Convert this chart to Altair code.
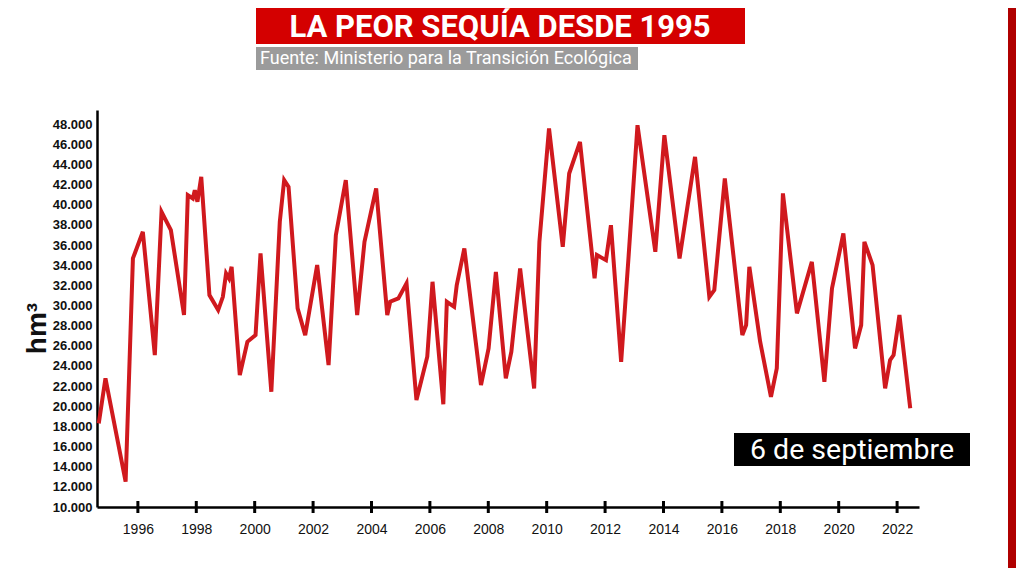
import altair as alt
import pandas as pd

# ---- data ----
years = [1994.66, 1994.89, 1995.58, 1995.83, 1996.17, 1996.58, 1996.81, 1997.13, 1997.58, 1997.71,
         1997.88, 1997.95, 1998.04, 1998.17, 1998.45, 1998.75, 1998.91, 1999.02, 1999.12, 1999.21,
         1999.49, 1999.75, 2000.03, 2000.20, 2000.57, 2000.86, 2001.01, 2001.16, 2001.47, 2001.73,
         2002.14, 2002.53, 2002.78, 2003.12, 2003.51, 2003.76, 2004.16, 2004.54, 2004.64, 2004.92,
         2005.20, 2005.54, 2005.91, 2006.09, 2006.46, 2006.58, 2006.83, 2006.92, 2007.18, 2007.75,
         2008.01, 2008.26, 2008.60, 2008.79, 2009.09, 2009.57, 2009.75, 2010.08, 2010.55, 2010.77,
         2011.14, 2011.64, 2011.72, 2012.03, 2012.20, 2012.55, 2012.80, 2013.11, 2013.72, 2014.03,
         2014.55, 2015.08, 2015.57, 2015.74, 2016.10, 2016.70, 2016.83, 2016.94, 2017.31, 2017.68,
         2017.88, 2018.09, 2018.57, 2019.08, 2019.51, 2019.77, 2020.16, 2020.56, 2020.77, 2020.88,
         2021.16, 2021.59, 2021.76, 2021.88, 2022.08, 2022.45]
reserva_hm3 = [18300, 22770, 12510, 34670, 37310, 25080, 39290, 37480, 29050, 40950,
               40620, 41450, 40290, 42770, 31030, 29540, 30860, 33180, 32690, 33840,
               23090, 26400, 27060, 35170, 21440, 38300, 42440, 41770, 29710, 27060,
               34010, 24090, 36980, 42440, 29050, 36320, 41620, 29050, 30370, 30700,
               32190, 20610, 24910, 32350, 20200, 30370, 29870, 32020, 35660, 22100,
               25740, 33340, 22770, 25410, 33670, 21770, 36320, 47570, 35820, 43100,
               46240, 32690, 35000, 34500, 37970, 24410, 34670, 47890, 35330, 46900,
               34670, 44750, 30860, 31530, 42610, 27060, 28050, 33840, 26400, 20940,
               23760, 41120, 29220, 34330, 22430, 31690, 37150, 25740, 28050, 36320,
               34010, 21770, 24580, 25080, 29050, 19790]
x_tick_years = list(range(1996, 2023, 2))
y_tick_values = list(range(10000, 48001, 2000))

title_text = "LA PEOR SEQUÍA DESDE 1995"
source_text = "Fuente: Ministerio para la Transición Ecológica"
note_text = "6 de septiembre"
y_title = "hm³"

df = pd.DataFrame({"year": years, "value": reserva_hm3})
ticks_df = pd.DataFrame({"year": x_tick_years})
one = pd.DataFrame({"k": [0]})

W, H = 822, 397
RED = "#d0191e"

x_scale = alt.Scale(domain=[1994.6, 2022.75], nice=False, zero=False)
y_scale = alt.Scale(domain=[10000, 49400], nice=False, zero=False)

line = alt.Chart(df).mark_line(color=RED, strokeWidth=4, strokeJoin="miter").encode(
    x=alt.X("year:Q", scale=x_scale,
            axis=alt.Axis(values=x_tick_years, format="d", title=None, ticks=False,
                          grid=False, domainColor="black", domainWidth=2.5,
                          labelFont="Liberation Sans", labelFontSize=14, labelColor="#111",
                          labelPadding=15)),
    y=alt.Y("value:Q", scale=y_scale,
            axis=alt.Axis(values=y_tick_values, title=y_title, ticks=False, grid=False,
                          domainColor="black", domainWidth=2.5,
                          labelExpr="replace(format(datum.value, ','), ',', '.')",
                          labelFont="Liberation Sans", labelFontWeight="bold",
                          labelFontSize=13, labelColor="#111", labelPadding=5,
                          titleFont="Liberation Sans", titleFontWeight="bold",
                          titleFontSize=28, titleColor="#111", titleAngle=-90,
                          titleX=-52, titleY=218, titleAlign="center",
                          titleBaseline="alphabetic")),
)

xticks = alt.Chart(ticks_df).mark_rule(color="black", strokeWidth=3).encode(
    x=alt.X("year:Q", scale=x_scale),
    y=alt.value(H - 6), y2=alt.value(H + 6),
)

title_box = alt.Chart(one).mark_rect(color="#d40000").encode(
    x=alt.value(159), x2=alt.value(648), y=alt.value(-102), y2=alt.value(-66))
title_mark = alt.Chart(one).mark_text(text=title_text, color="white", font="Roboto",
                                      fontWeight="bold", fontSize=31, align="center",
                                      baseline="middle").encode(
    x=alt.value(403), y=alt.value(-82))
src_box = alt.Chart(one).mark_rect(color="#9b9b9b").encode(
    x=alt.value(159), x2=alt.value(541), y=alt.value(-63), y2=alt.value(-40))
src_mark = alt.Chart(one).mark_text(text=source_text, color="white", font="Roboto",
                                    fontSize=18, align="left", baseline="middle").encode(
    x=alt.value(163), y=alt.value(-51))
note_box = alt.Chart(one).mark_rect(color="black").encode(
    x=alt.value(637), x2=alt.value(873), y=alt.value(323), y2=alt.value(356))
note_mark = alt.Chart(one).mark_text(text=note_text, color="white", font="Roboto",
                                     fontSize=28.5, align="center", baseline="middle").encode(
    x=alt.value(755), y=alt.value(340))
right_bar = alt.Chart(one).mark_rect(color="#b00000").encode(
    x=alt.value(911), x2=alt.value(920), y=alt.value(-102), y2=alt.value(460))

chart = alt.layer(
    right_bar, title_box, title_mark, src_box, src_mark, line, xticks, note_box, note_mark
).properties(
    width=W, height=H,
    autosize=alt.AutoSizeParams(type="none"),
    padding={"left": 89, "top": 102, "right": 1008 - 89 - W, "bottom": 560 - 102 - H},
    background="white",
).configure_view(stroke=None)

chart.save("out.html", embed_options={"renderer": "svg", "actions": False})
